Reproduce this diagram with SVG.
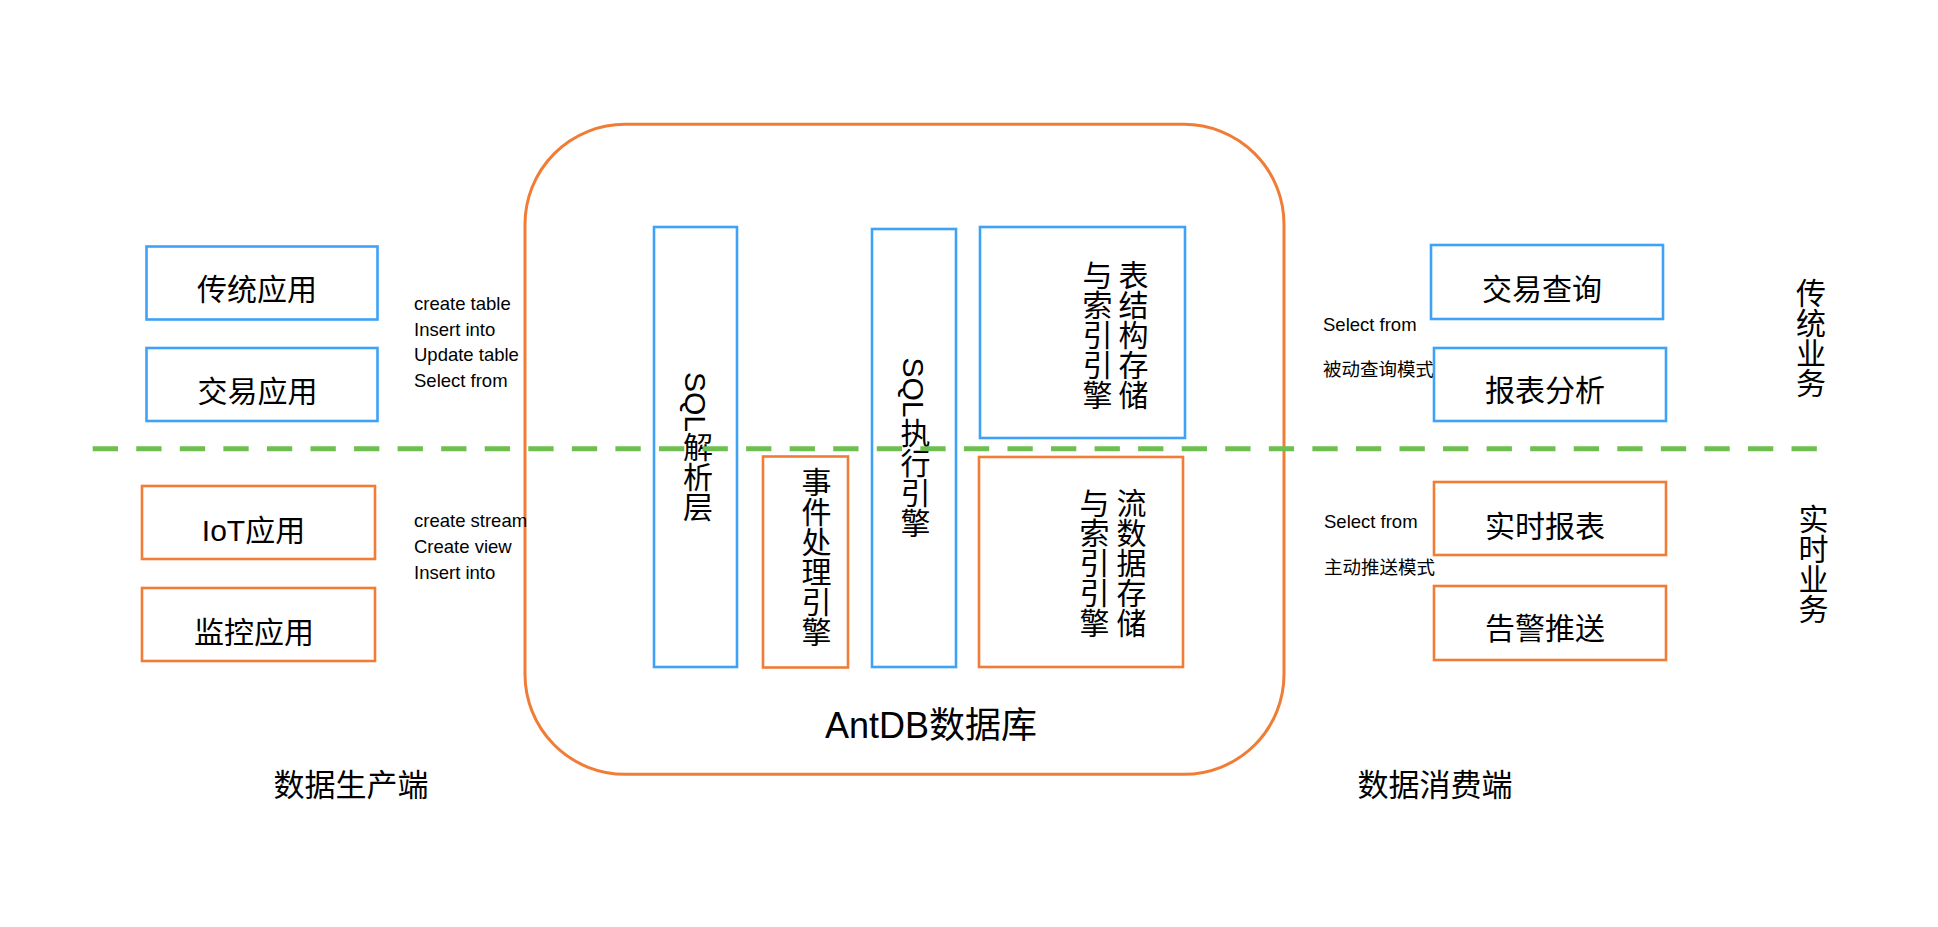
<svg xmlns="http://www.w3.org/2000/svg" width="1938" height="927" viewBox="0 0 1938 927">
<style>
  text { font-family: "Liberation Sans", "Noto Sans CJK SC", sans-serif; fill: #000; }
  .blue { fill: none; stroke: #3ea2f8; stroke-width: 2.6; }
  .orange { fill: none; stroke: #f07c36; stroke-width: 2.6; }
  .lbl { font-size: 30px; text-anchor: middle; }
  .small { font-size: 18.5px; }
  .vert { font-size: 30px; writing-mode: vertical-rl; text-anchor: middle; dominant-baseline: central; }
  .divider { stroke: #6dbf4f; stroke-width: 5; stroke-dasharray: 25.3 18.26; fill: none; }
</style>
<rect width="1938" height="927" fill="#fff"/>

<g id="antdb">
  <rect x="525" y="124.3" width="759" height="650" rx="100" ry="100" fill="none" stroke="#f07c36" stroke-width="3"/>
  <text x="931" y="738" font-size="36" text-anchor="middle">AntDB数据库</text>
</g>

<g id="app-traditional">
  <rect class="blue" x="146.5" y="246.5" width="231" height="73"/>
  <text class="lbl" x="257" y="299.5">传统应用</text>
</g>
<g id="app-trade">
  <rect class="blue" x="146.5" y="348" width="231" height="73"/>
  <text class="lbl" x="257.5" y="401.5">交易应用</text>
</g>
<g id="app-iot">
  <rect class="orange" x="142" y="486" width="233" height="73"/>
  <text class="lbl" x="253.5" y="540.5">IoT应用</text>
</g>
<g id="app-monitor">
  <rect class="orange" x="142" y="588" width="233" height="73"/>
  <text class="lbl" x="254" y="642.5">监控应用</text>
</g>

<g id="sql-left">
  <text class="small" x="414" y="310.3">create table</text>
  <text class="small" x="414" y="335.7">Insert into</text>
  <text class="small" x="414" y="361.1">Update table</text>
  <text class="small" x="414" y="386.5">Select from</text>
</g>
<g id="stream-left">
  <text class="small" x="414" y="527.3">create stream</text>
  <text class="small" x="414" y="553.3">Create view</text>
  <text class="small" x="414" y="579">Insert into</text>
</g>

<g id="sql-parser">
  <rect class="blue" x="654" y="227" width="83" height="440"/>
  <text class="vert" x="695.5" y="447">SQL解析层</text>
</g>
<g id="event-engine">
  <rect class="orange" x="763" y="456.5" width="85" height="211"/>
  <text class="vert" x="814" y="557">事件处理引擎</text>
</g>
<g id="sql-exec">
  <rect class="blue" x="872" y="229" width="84" height="438"/>
  <text class="vert" x="913" y="447.5">SQL执行引擎</text>
</g>
<g id="table-storage">
  <rect class="blue" x="980" y="227" width="205" height="211"/>
  <text class="vert" x="1131" y="335">表结构存储</text>
  <text class="vert" x="1095" y="335">与索引引擎</text>
</g>
<g id="stream-storage">
  <rect class="orange" x="979" y="457" width="204" height="210"/>
  <text class="vert" x="1129" y="563">流数据存储</text>
  <text class="vert" x="1092" y="563">与索引引擎</text>
</g>

<g id="sql-right">
  <text class="small" x="1323" y="331">Select from</text>
  <text class="small" x="1323" y="375.5">被动查询模式</text>
  <text class="small" x="1324" y="528.3">Select from</text>
  <text class="small" x="1324" y="574">主动推送模式</text>
</g>

<g id="q-trade">
  <rect class="blue" x="1431" y="245" width="232" height="74"/>
  <text class="lbl" x="1542" y="299.5">交易查询</text>
</g>
<g id="q-report">
  <rect class="blue" x="1434" y="348" width="232" height="73"/>
  <text class="lbl" x="1545" y="400.5">报表分析</text>
</g>
<g id="q-realtime">
  <rect class="orange" x="1434" y="482" width="232" height="73"/>
  <text class="lbl" x="1545" y="536.5">实时报表</text>
</g>
<g id="q-alert">
  <rect class="orange" x="1434" y="586" width="232" height="74"/>
  <text class="lbl" x="1545" y="638.5">告警推送</text>
</g>

<g id="biz-traditional">
  <text class="vert" x="1808.6" y="337.5">传统业务</text>
</g>
<g id="biz-realtime">
  <text class="vert" x="1811" y="564">实时业务</text>
</g>

<g id="producer">
  <text x="351" y="795.8" font-size="31" text-anchor="middle">数据生产端</text>
</g>
<g id="consumer">
  <text x="1435" y="795.8" font-size="31" text-anchor="middle">数据消费端</text>
</g>

<g id="connectors">
  <line class="divider" x1="92.7" y1="448.7" x2="1817" y2="448.7"/>
</g>
</svg>
